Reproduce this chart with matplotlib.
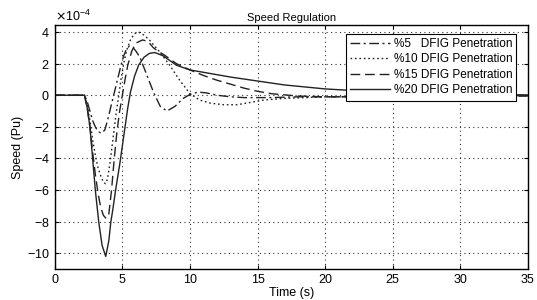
import numpy as np
import matplotlib
matplotlib.use("Agg")
import matplotlib.pyplot as plt
from matplotlib.ticker import ScalarFormatter

# values, speed in units of 1e-4 pu
t_05 = [0, 2.2, 2.4, 2.6, 2.8, 3.0, 3.2, 3.45, 3.7, 3.9, 4.1, 4.3, 4.5, 4.7, 4.9, 5.1, 5.3, 5.5,
        5.8, 6.0, 6.3, 6.8, 7.3, 7.8, 8.3, 8.9, 9.5, 10.0, 10.6, 11.2, 12, 13, 14, 16, 18, 20, 25, 30, 35]
v_05 = [0, 0, -0.4, -1.0, -1.6, -2.0, -2.3, -2.4, -2.2, -1.6, -0.9, -0.2, 0.5, 1.2, 1.9, 2.5, 2.9, 3.1,
        3.0, 2.8, 2.4, 1.3, 0.2, -0.7, -1.0, -0.7, -0.2, 0.05, 0.2, 0.15, 0.0, -0.1, -0.15, -0.15, -0.1,
        -0.1, -0.1, -0.08, -0.05]

t_10 = [0, 2.2, 2.4, 2.6, 2.8, 3.0, 3.2, 3.4, 3.6, 3.75, 3.9, 4.1, 4.3, 4.5, 4.7, 4.9, 5.1, 5.3,
        5.6, 5.9, 6.2, 6.6, 7.0, 7.8, 8.5, 9.2, 10.0, 10.7, 11.5, 12.5, 13.5, 14.5, 15.5, 17, 20, 25, 30, 35]
v_10 = [0, 0, -0.6, -1.6, -2.8, -3.8, -4.6, -5.1, -5.5, -5.6, -5.3, -4.2, -2.8, -1.4, -0.2, 1.0, 2.0, 2.8,
        3.5, 3.9, 4.0, 3.8, 3.5, 2.7, 1.9, 1.0, 0.1, -0.3, -0.5, -0.6, -0.6, -0.45, -0.3, -0.2, -0.1,
        -0.05, -0.03, -0.02]

t_15 = [0, 2.2, 2.4, 2.6, 2.8, 3.0, 3.2, 3.4, 3.6, 3.8, 4.0, 4.2, 4.4, 4.6, 4.8, 5.0, 5.2, 5.4, 5.7,
        6.0, 6.5, 6.9, 7.3, 7.7, 8.1, 8.5, 9.0, 9.5, 10, 11, 12, 13, 14, 15, 16, 18, 20, 25, 30, 35]
v_15 = [0, 0, -0.8, -2.0, -3.6, -5.0, -6.2, -7.1, -7.6, -7.8, -7.5, -6.0, -4.0, -2.3, -1.0, 0.0, 1.0, 1.9,
        2.8, 3.3, 3.5, 3.4, 3.0, 2.75, 2.55, 2.3, 2.0, 1.8, 1.6, 1.25, 0.95, 0.7, 0.45, 0.25, 0.1,
        -0.05, -0.1, -0.1, -0.05, -0.02]

t_20 = [0, 2.2, 2.4, 2.6, 2.8, 3.0, 3.25, 3.5, 3.77, 4.0, 4.15, 4.3, 4.5, 4.8, 5.0, 5.2, 5.4, 5.6,
        5.9, 6.2, 6.6, 7.0, 7.4, 8.0, 8.5, 9, 10, 11, 12, 13, 15, 17, 20, 23, 26, 30, 35]
v_20 = [0, 0, -0.8, -2.0, -4.0, -6.0, -8.0, -9.5, -10.2, -9.2, -8.0, -7.2, -6.0, -4.4, -3.2, -2.0, -0.8, 0.2,
        1.2, 1.9, 2.4, 2.65, 2.7, 2.5, 2.2, 1.9, 1.6, 1.45, 1.3, 1.15, 0.9, 0.65, 0.4, 0.25, 0.15, 0.07, 0.02]

labels = ["%5   DFIG Penetration", "%10 DFIG Penetration",
          "%15 DFIG Penetration", "%20 DFIG Penetration"]

plt.rcParams["font.family"] = ["Liberation Sans", "DejaVu Sans"]
plt.rcParams["font.size"] = 9
plt.rcParams["axes.unicode_minus"] = False

fig = plt.figure(figsize=(5.37, 3.0), dpi=100)
ax = fig.add_axes([0.102, 0.103, 0.881, 0.814])

scale = 1e-4
ax.plot(t_05, np.array(v_05) * scale, color="#222222", lw=1.0, ls=(0, (7, 2.5, 1.5, 2.5)), label=labels[0])
ax.plot(t_10, np.array(v_10) * scale, color="#222222", lw=1.0, ls=(0, (1.2, 2)), label=labels[1])
ax.plot(t_15, np.array(v_15) * scale, color="#222222", lw=1.0, ls=(0, (7, 3.5)), label=labels[2])
ax.plot(t_20, np.array(v_20) * scale, color="#222222", lw=1.0, ls="-", label=labels[3])

ax.set_xlim(0, 35)
ax.set_ylim(-11e-4, 4.45e-4)
ax.set_xticks(np.arange(0, 36, 5))
ax.set_yticks(np.arange(-10, 5, 2) * scale)
fmt = ScalarFormatter(useMathText=True)
fmt.set_powerlimits((-4, -4))
ax.yaxis.set_major_formatter(fmt)
ax.yaxis.get_offset_text().set_fontsize(9)

ax.grid(True, ls=(0, (1, 3)), color="#333333", lw=0.8)
ax.tick_params(direction="in", top=True, right=True, length=3, labelsize=9)
for s in ax.spines.values():
    s.set_linewidth(1.0)

ax.set_title("Speed Regulation", fontsize=8, pad=3)
ax.set_xlabel("Time (s)", fontsize=9, labelpad=1)
ax.set_ylabel("Speed (Pu)", fontsize=9, labelpad=2)

leg = ax.legend(loc="upper right", fontsize=8.5, handlelength=3.4, fancybox=False,
                framealpha=1, edgecolor="black", borderpad=0.35, labelspacing=0.3,
                handletextpad=0.3, bbox_to_anchor=(0.988, 0.988))
leg.get_frame().set_linewidth(0.8)

fig.savefig("out.png", dpi=100)
